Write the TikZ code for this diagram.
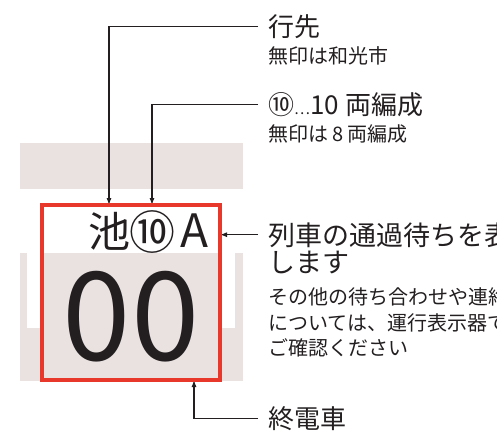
\documentclass[tikz,border=0pt]{standalone}
\usepackage{fontspec}
\setmainfont{Noto Sans CJK JP}
\usetikzlibrary{arrows.meta}

\definecolor{panelgray}{HTML}{E9E2E1}
\definecolor{signred}{HTML}{E8372B}
\definecolor{ink}{HTML}{231F20}

\tikzset{
  callout/.style={ink, line width=1.1pt, -{Latex[length=7pt, width=5pt]}, shorten <=10pt},
  txtbig/.style={anchor=base west, inner sep=0pt, text=ink, text height=22.9pt, text depth=3.1pt,
    font=\fontsize{26pt}{30pt}\selectfont},
  txtwide/.style={anchor=base west, inner sep=0pt, text=ink, text height=23.8pt, text depth=3.2pt,
    font=\fontsize{27pt}{31pt}\selectfont},
  txtsmall/.style={anchor=base west, inner sep=0pt, text=ink, text height=17.6pt, text depth=2.4pt,
    font=\fontsize{20pt}{25pt}\selectfont},
  signtxt/.style={anchor=base, inner sep=0pt, text=ink, font=\fontsize{42pt}{46pt}\selectfont},
}

\begin{document}
\begin{tikzpicture}[x=1pt, y=-1pt]
\useasboundingbox (0,0) rectangle (497,447);
\clip (0,0) rectangle (497,447);

% panel around the sign
\fill[panelgray] (20,143) rectangle (243,189);
\fill[panelgray] (20,253) rectangle (243,381);
\fill[white] (27,253) rectangle (235,328);

\node[minimum width=178pt, minimum height=175pt, inner sep=0pt, outer sep=0pt] (board) at (131,292.5) {};
\fill[panelgray] (42,253) rectangle (220,380);

% sign contents
\node[signtxt] (ike) at (109,247) {池};
\node[signtxt, anchor=center, font=\fontsize{46pt}{50pt}\selectfont] (tenc) at (152,232.5) {⑩};
\node[signtxt, font=\fontsize{46pt}{50pt}\selectfont] (aa) at (194,247) {A};
\node[anchor=base, inner sep=0pt, text=ink, font=\fontsize{123pt}{130pt}\selectfont] (num) at (131,360) {00};

% captions
\node[txtbig] (dest) at (268,36) {行先};
\node[txtsmall] (destnote) at (268,63.6) {無印は和光市};
\node[txtbig] (cars) at (268,114) {⑩{\fontsize{15pt}{15pt}\selectfont ⋯}10\hspace{7pt}両編成};
\node[txtsmall] (carsnote) at (268,141.6) {無印は\hspace{4pt}8\hspace{4pt}両編成};
\node[txtwide] (pass) at (268,245) {列車の通過待ちを表示};
\node[txtwide] (pass2) at (268,272) {します};
\node[txtsmall] (note1) at (268,304.6) {その他の待ち合わせや連絡};
\node[txtsmall] (note2) at (268,330.1) {については、運行表示器で};
\node[txtsmall] (note3) at (268,355.6) {ご確認ください};
\node[txtbig] (last) at (268,428) {終電車};

\coordinate (lasttip) at ([xshift=63pt]board.south);

\draw[callout] (dest.west) -| (ike |- board.north);
\draw[callout] (cars.west) -| (tenc |- board.north);
\draw[callout] (pass.west) -- (pass.west -| board.east);
\draw[callout] (last.west) -| (lasttip);

\draw[signred, line width=4pt] (board.south west) rectangle (board.north east);
\end{tikzpicture}
\end{document}
